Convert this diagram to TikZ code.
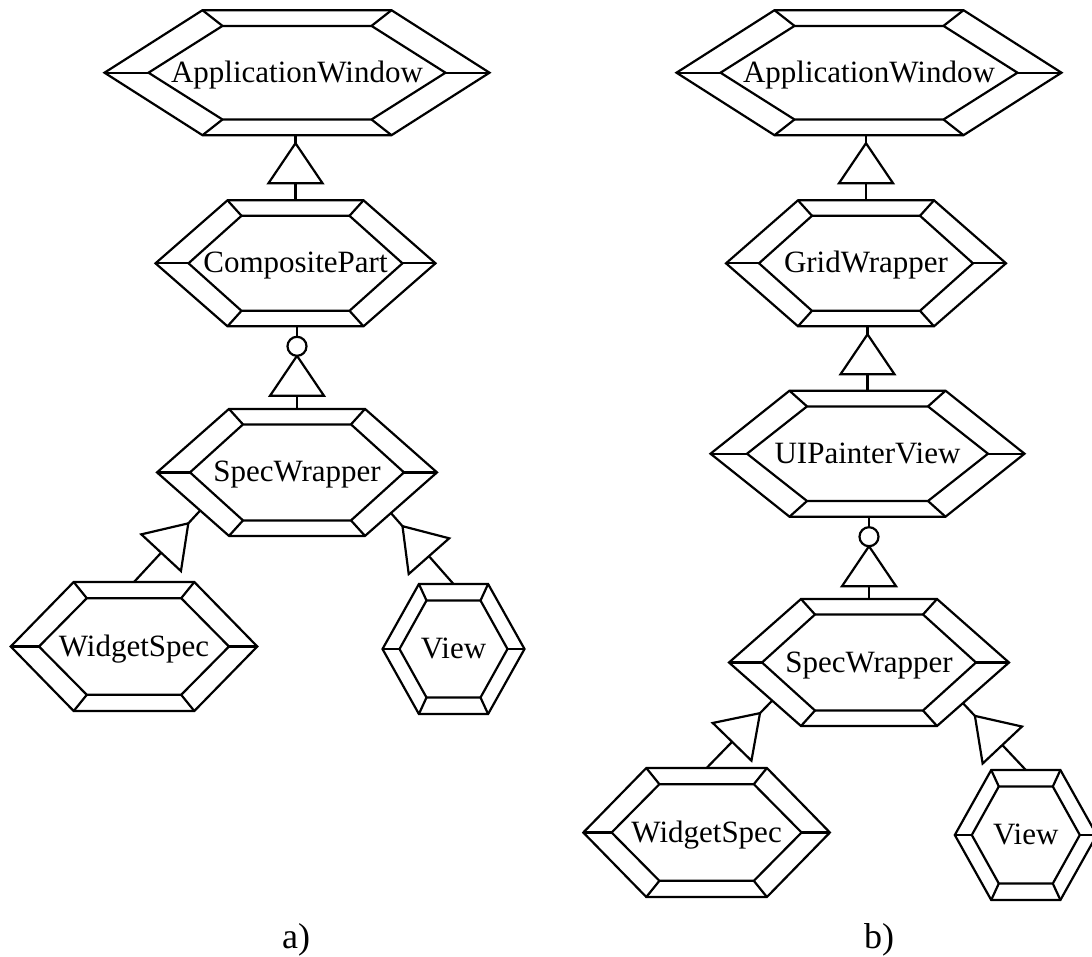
\documentclass[tikz,border=0pt]{standalone}
\usepackage{fontspec}
\setmainfont{Liberation Serif}
\usetikzlibrary{calc}
\tikzset{
  hexline/.style={line width=2.2pt, line join=miter},
  conn/.style={line width=2.2pt},
  lbl/.style={inner sep=0pt, font=\fontsize{31}{37}\selectfont, anchor=base},
  caption/.style={inner sep=0pt, font=\fontsize{36}{43}\selectfont, anchor=base},
}
% #1 name, #2 center, #3 outer point half-width, #4 outer top half-width, #5 outer half-height,
% #6 inner point half-width, #7 inner top half-width, #8 inner half-height, #9 text
\newcommand\hexbox[9]{%
  \coordinate (#1) at (#2);
  \node[lbl] (#1-t) at ($(#1)+(0,9.5)$) {#9};
  \coordinate (#1-o1) at ($(#1)+(-#3,0)$);
  \coordinate (#1-o2) at ($(#1)+(-#4,-#5)$);
  \coordinate (#1-o3) at ($(#1)+(#4,-#5)$);
  \coordinate (#1-o4) at ($(#1)+(#3,0)$);
  \coordinate (#1-o5) at ($(#1)+(#4,#5)$);
  \coordinate (#1-o6) at ($(#1)+(-#4,#5)$);
  \coordinate (#1-i1) at ($(#1)+(-#6,0)$);
  \coordinate (#1-i2) at ($(#1)+(-#7,-#8)$);
  \coordinate (#1-i3) at ($(#1)+(#7,-#8)$);
  \coordinate (#1-i4) at ($(#1)+(#6,0)$);
  \coordinate (#1-i5) at ($(#1)+(#7,#8)$);
  \coordinate (#1-i6) at ($(#1)+(-#7,#8)$);
  \coordinate (#1-top) at ($(#1)+(0,-#5)$);
  \coordinate (#1-bot) at ($(#1)+(0,#5)$);
  \draw[hexline] (#1-o1) -- (#1-o2) -- (#1-o3) -- (#1-o4) -- (#1-o5) -- (#1-o6) -- cycle;
  \draw[hexline] (#1-i1) -- (#1-i2) -- (#1-i3) -- (#1-i4) -- (#1-i5) -- (#1-i6) -- cycle;
  \foreach \k in {1,...,6} {\draw[hexline] (#1-o\k) -- (#1-i\k);}
}
% inheritance: #1 child point, #2 parent point, #3 gap
\newcommand\inherit[3]{%
  \draw[conn] (#1) -- (#2);
  \coordinate (tA) at ($(#2)!#3!(#1)$);
  \coordinate (tB) at ($(tA)!40pt!(#1)$);
  \draw[conn, fill=white] (tA) -- ($(tB)!27pt!90:(#1)$) -- ($(tB)!27pt!-90:(#1)$) -- cycle;
}
% inheritance with circle
\newcommand\inheritc[2]{%
  \draw[conn] (#1) -- (#2);
  \coordinate (tC) at ($(#2)!20pt!(#1)$);
  \coordinate (tA) at ($(#2)!29.5pt!(#1)$);
  \coordinate (tB) at ($(tA)!40pt!(#1)$);
  \draw[conn, fill=white] (tA) -- ($(tB)!27pt!90:(#1)$) -- ($(tB)!27pt!-90:(#1)$) -- cycle;
  \draw[conn, fill=white] (tC) circle (9.5pt);
}
\begin{document}
\begin{tikzpicture}[x=1pt, y=-1pt]
\useasboundingbox (0,0) rectangle (1092,956);
\clip (0,0) rectangle (1092,956);

% ---- a) ----
\hexbox{awL}{297,72.7}{192.5}{94.5}{62.5}{148.5}{74.5}{46.8}{ApplicationWindow}
\hexbox{cpL}{295.5,263.3}{140}{68}{63}{107}{54}{47.5}{CompositePart}
\hexbox{swL}{297,472.4}{140}{68}{63.5}{107}{54}{48}{SpecWrapper}
\hexbox{wsL}{134,646.5}{123.3}{60.3}{64.5}{95}{47.2}{48.3}{WidgetSpec}
\hexbox{vwL}{453.5,649}{71}{34.6}{65}{54}{27}{48.5}{View}

\coordinate (cL1) at (cpL-top |- awL-bot);
\inherit{cpL-top}{cL1}{8pt}
\coordinate (cL2) at (swL-top |- cpL-bot);
\inheritc{swL-top}{cL2}
\coordinate (cL3) at ($(swL-o1)!0.6!(swL-o6)$);
\inherit{wsL-top}{cL3}{17.5pt}
\coordinate (cL4) at ($(swL-o4)!0.64!(swL-o5)$);
\inherit{vwL-top}{cL4}{17.5pt}

% ---- b) ----
\hexbox{awR}{869,72.7}{192.5}{94.5}{62.5}{148.5}{74.5}{46.8}{ApplicationWindow}
\hexbox{gwR}{866,263.3}{140}{68}{63}{107}{54}{47.5}{GridWrapper}
\hexbox{upR}{867.5,453.7}{157}{78}{63}{120.5}{60.5}{47.3}{UIPainterView}
\hexbox{swR}{869,662.5}{140}{68}{63.5}{107}{54}{48}{SpecWrapper}
\hexbox{wsR}{706.6,832.5}{123.3}{60.3}{64.5}{95}{47.2}{48.3}{WidgetSpec}
\hexbox{vwR}{1025.8,835}{71}{34.6}{65}{54}{27}{48.5}{View}

\coordinate (cR1) at (gwR-top |- awR-bot);
\inherit{gwR-top}{cR1}{8pt}
\coordinate (cR2) at (upR-top |- gwR-bot);
\inherit{upR-top}{cR2}{8pt}
\coordinate (cR3) at (swR-top |- upR-bot);
\inheritc{swR-top}{cR3}
\coordinate (cR4) at ($(swR-o1)!0.6!(swR-o6)$);
\inherit{wsR-top}{cR4}{17.5pt}
\coordinate (cR5) at ($(swR-o4)!0.64!(swR-o5)$);
\inherit{vwR-top}{cR5}{17.5pt}

% captions
\node[caption] (capA) at (296,948) {a)};
\node[caption] (capB) at (879,948) {b)};
\end{tikzpicture}
\end{document}
